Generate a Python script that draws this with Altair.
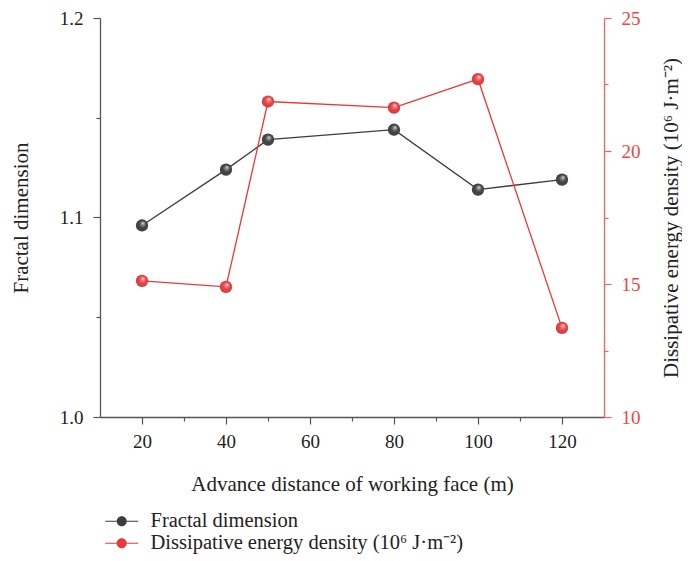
import altair as alt
import pandas as pd

# ---- data ----
distance = [20, 40, 50, 80, 100, 120]
fractal = [1.096, 1.124, 1.139, 1.144, 1.114, 1.119]
energy = [15.12, 14.89, 21.86, 21.63, 22.70, 13.35]

series_names = ["Fractal dimension", "Dissipative energy density (10\u2076 J\u00b7m\u207b\u00b2)"]
series_colors = ["#3c3c3c", "#e8383a"]

x_ticks = [20, 30, 40, 50, 60, 70, 80, 90, 100, 110, 120]
y_left_ticks = [1.0, 1.05, 1.1, 1.15, 1.2]
y_right_ticks = [10, 12.5, 15, 17.5, 20, 22.5, 25]

x_title = "Advance distance of working face (m)"
y_left_title = "Fractal dimension"
y_right_title = "Dissipative energy density (10\u2076 J\u00b7m\u207b\u00b2)"

df_f = pd.DataFrame({"distance": distance, "value": fractal, "series": series_names[0]})
df_e = pd.DataFrame({"distance": distance, "value": energy, "series": series_names[1]})
df_all = pd.concat([df_f, df_e], ignore_index=True)

FONT = "Liberation Serif"
MAJOR = 7
MINOR = 4

# legend symbol (units of 10 px): line piece, dot, line piece — all filled shapes
legend_path = (
    "M-0.5,-0.06H0.65V0.06H-0.5Z "
    "M1.65,-0.06H2.8V0.06H1.65Z "
    "M0.65,0A0.5,0.5,0,1,1,1.65,0A0.5,0.5,0,1,1,0.65,0Z"
)

x_enc = alt.X(
    "distance:Q",
    scale=alt.Scale(domain=[10, 130], nice=False, zero=False),
    axis=alt.Axis(
        values=x_ticks,
        labelExpr="datum.value % 20 === 0 ? datum.label : ''",
        tickSize={"condition": {"test": "datum.value % 20 === 0", "value": MAJOR}, "value": MINOR},
        labelPadding=8,
        title=x_title,
        titlePadding=22,
        labelOverlap=False,
    ),
)

stroke_scale = alt.Scale(domain=series_names, range=series_colors)

sphere = alt.RadialGradient(
    gradient="radial",
    x1=0.6, y1=0.3, r1=0.0,
    x2=0.5, y2=0.5, r2=0.55,
    stops=[
        alt.GradientStop(offset=0.0, color="rgba(255,255,255,0.95)"),
        alt.GradientStop(offset=0.25, color="rgba(255,255,255,0.35)"),
        alt.GradientStop(offset=0.6, color="rgba(255,255,255,0.0)"),
        alt.GradientStop(offset=1.0, color="rgba(0,0,0,0.25)"),
    ],
)

MSIZE = 150


def make_layer(df, y_enc):
    line = alt.Chart(df).mark_line(strokeWidth=1.3).encode(
        x=x_enc,
        y=y_enc,
        stroke=alt.Stroke("series:N", scale=stroke_scale, legend=None),
    )
    pts = alt.Chart(df).mark_point(filled=True, size=MSIZE, opacity=1).encode(
        x=x_enc,
        y=y_enc,
        fill=alt.Fill("series:N", scale=stroke_scale, legend=None),
    )
    hl = alt.Chart(df).mark_point(filled=True, size=MSIZE, opacity=1, fill=sphere).encode(
        x=x_enc,
        y=y_enc,
    )
    return alt.layer(line, pts, hl)


y_left = alt.Y(
    "value:Q",
    scale=alt.Scale(domain=[1.0, 1.2], nice=False, zero=False),
    axis=alt.Axis(
        orient="left",
        values=y_left_ticks,
        labelExpr="round(datum.value*100) % 10 === 0 ? format(datum.value, '.1f') : ''",
        tickSize={"condition": {"test": "round(datum.value*100) % 10 === 0", "value": MAJOR}, "value": MINOR},
        labelPadding=10,
        title=y_left_title,
        titlePadding=28,
        labelOverlap=False,
    ),
)

y_right = alt.Y(
    "value:Q",
    scale=alt.Scale(domain=[10, 25], nice=False, zero=False),
    axis=alt.Axis(
        orient="right",
        values=y_right_ticks,
        labelExpr="datum.value % 5 === 0 ? datum.label : ''",
        tickSize={"condition": {"test": "datum.value % 5 === 0", "value": MAJOR}, "value": MINOR},
        labelPadding=10,
        labelColor="#ee4444",
        domainColor="#f06464",
        tickColor="#f06464",
        title=y_right_title,
        titleAngle=270,
        titlePadding=41,
        labelOverlap=False,
    ),
)

# legend carrier: an invisible layer with its own color channel
legend_layer = alt.Chart(df_all).mark_point(filled=True, opacity=0, size=0).encode(
    x=x_enc,
    y=alt.Y("value:Q", axis=None, scale=alt.Scale(domain=[0, 1])),
    color=alt.Color(
        "series:N",
        scale=alt.Scale(domain=series_names, range=series_colors),
        legend=alt.Legend(
            title=None,
            orient="bottom",
            direction="vertical",
            offset=17,
            symbolType=legend_path,
            symbolSize=400,
            symbolStrokeWidth=0,
            symbolOpacity=1,
            labelFont=FONT,
            labelFontSize=20.5,
            labelColor="#222",
            labelOffset=30,
            rowPadding=1,
            labelLimit=500,
        ),
    ),
)

left = make_layer(df_f, y_left)
right = make_layer(df_e, y_right)

chart = (
    alt.layer(left, right, legend_layer)
    .resolve_scale(y="independent", color="independent")
    .properties(
        width=504,
        height=399,
        autosize=alt.AutoSizeParams(type="none"),
        padding={"left": 92, "top": 10, "right": 78, "bottom": 143},
    )
    .configure_view(stroke=None)
    .configure_axis(
        grid=False,
        labelFont=FONT,
        titleFont=FONT,
        labelFontSize=19,
        titleFontSize=21,
        titleFontWeight="normal",
        labelColor="#222",
        titleColor="#222",
        domainColor="#555",
        tickColor="#555",
        domainWidth=1.3,
        tickWidth=1.2,
    )
    .configure_legend(labelFont=FONT)
)

chart.save("out.html", embed_options={"renderer": "svg", "actions": False})
